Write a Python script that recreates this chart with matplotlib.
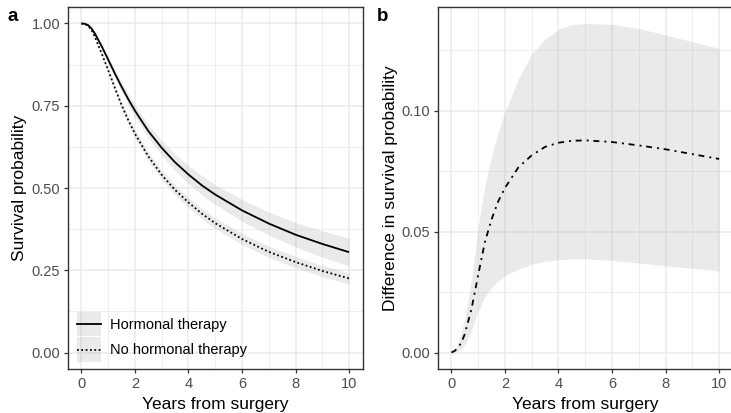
import numpy as np
import matplotlib; matplotlib.use("Agg")
import matplotlib.pyplot as plt
from matplotlib.patches import Patch
from matplotlib.lines import Line2D
from matplotlib.legend_handler import HandlerTuple, HandlerLine2D
from matplotlib.ticker import MultipleLocator

INK = "#000000"; TICKS = "#4D4D4D"; BORDER = "#333333"; GRID = "#EBEBEB"
plt.rcParams.update({"font.family": ["Liberation Sans", "DejaVu Sans"], "font.size": 10.5,
                     "lines.scale_dashes": True})

# years from surgery
years = [0, 0.125, 0.25, 0.375, 0.5, 0.75, 1, 1.25, 1.5, 1.75, 2, 2.5, 3, 3.5, 4, 4.5,
         5, 6, 7, 8, 9, 10]

# survival curves with confidence bands
hormonal = [1.000, 0.999, 0.995, 0.985, 0.970, 0.932, 0.890, 0.848, 0.808, 0.770, 0.735,
            0.673, 0.622, 0.578, 0.541, 0.508, 0.480, 0.432, 0.392, 0.358, 0.330, 0.305]
hormonal_hi = [1.000, 0.999, 0.997, 0.988, 0.975, 0.940, 0.901, 0.861, 0.823, 0.787, 0.753,
               0.693, 0.644, 0.603, 0.568, 0.537, 0.510, 0.465, 0.427, 0.395, 0.370, 0.347]
hormonal_lo = [1.000, 0.998, 0.993, 0.982, 0.965, 0.924, 0.879, 0.835, 0.793, 0.753, 0.717,
               0.653, 0.600, 0.553, 0.514, 0.479, 0.450, 0.399, 0.357, 0.321, 0.290, 0.263]
no_hormonal = [1.000, 0.998, 0.993, 0.980, 0.960, 0.910, 0.858, 0.804, 0.752, 0.706, 0.665,
               0.596, 0.540, 0.494, 0.456, 0.422, 0.393, 0.345, 0.306, 0.275, 0.248, 0.225]
no_hormonal_hi = [1.000, 0.999, 0.995, 0.983, 0.964, 0.916, 0.866, 0.813, 0.762, 0.717, 0.677,
                  0.609, 0.554, 0.509, 0.471, 0.438, 0.409, 0.362, 0.323, 0.292, 0.265, 0.242]
no_hormonal_lo = [1.000, 0.997, 0.991, 0.977, 0.956, 0.904, 0.850, 0.795, 0.742, 0.695, 0.653,
                  0.583, 0.526, 0.479, 0.441, 0.406, 0.377, 0.328, 0.289, 0.258, 0.231, 0.208]

# difference in survival probability
diff = [0.0, 0.0007, 0.002, 0.0042, 0.0076, 0.018, 0.032, 0.0456, 0.055, 0.0625, 0.068,
        0.0765, 0.0815, 0.085, 0.0867, 0.0875, 0.0877, 0.087, 0.0856, 0.084, 0.082, 0.080]
diff_hi = [0.0, 0.0012, 0.004, 0.0085, 0.014, 0.030, 0.052, 0.069, 0.081, 0.091, 0.0995,
           0.113, 0.1235, 0.1295, 0.1335, 0.1355, 0.136, 0.1356, 0.134, 0.1312, 0.1285, 0.1257]
diff_lo = [0.0, 0.0001, 0.0005, 0.0015, 0.003, 0.009, 0.017, 0.023, 0.027, 0.0295, 0.0317,
           0.0345, 0.0365, 0.0377, 0.0383, 0.0387, 0.0388, 0.0381, 0.037, 0.0359, 0.0348, 0.0337]

LW = 1.3
DOTTED = (0, (1.0, 1.4))
DOTDASH = (0, (3.3, 2.8, 1.1, 2.6))
BAND = dict(color="0.6", alpha=0.2, lw=0)


class CenteredLine(HandlerLine2D):
    # put the key line in the middle of the grey key box
    def create_artists(self, legend, orig_handle, xdescent, ydescent, width, height,
                       fontsize, trans):
        arts = super().create_artists(legend, orig_handle, xdescent, ydescent, width,
                                      height, fontsize, trans)
        for a in arts:
            a.set_ydata(np.full(len(a.get_xdata()), height / 2 - ydescent))
        return arts


def style(ax, ymajor, yminor):
    ax.set_xlim(-0.5, 10.5)
    ax.xaxis.set_major_locator(MultipleLocator(2))
    ax.xaxis.set_minor_locator(MultipleLocator(1))
    ax.yaxis.set_major_locator(MultipleLocator(ymajor))
    ax.yaxis.set_minor_locator(MultipleLocator(yminor))
    ax.grid(True, which="major", color=GRID, lw=1.1, zorder=0)
    ax.grid(True, which="minor", color=GRID, lw=0.6, zorder=0)
    ax.set_axisbelow(True)
    for s in ax.spines.values():
        s.set_color(BORDER); s.set_linewidth(1.0)
    ax.tick_params(which="major", length=3.2, width=0.9, color=BORDER,
                   labelcolor=TICKS, labelsize=10.5, pad=2.5)
    ax.tick_params(which="minor", length=0)
    ax.set_xlabel("Years from surgery", fontsize=12.5, color=INK, labelpad=4.5)


fig = plt.figure(figsize=(7.31, 4.13), dpi=100)

# ---- panel a: survival curves ----
ax = fig.add_axes([68/731, 44/413, 294.5/731, 362/413])
ax.fill_between(years, hormonal_lo, hormonal_hi, **BAND)
ax.fill_between(years, no_hormonal_lo, no_hormonal_hi, **BAND)
ax.plot(years, hormonal, color="black", lw=LW, solid_capstyle="butt")
ax.plot(years, no_hormonal, color="black", lw=LW, ls=DOTTED)
style(ax, 0.25, 0.125)
ax.set_ylim(-0.05, 1.05)
ax.yaxis.set_major_formatter(lambda v, p: f"{v:.2f}")
ax.set_ylabel("Survival probability", fontsize=12.5, color=INK, labelpad=3)
handles = [(Patch(**BAND), Line2D([], [], color="black", lw=LW)),
           (Patch(**BAND), Line2D([], [], color="black", lw=LW, ls=DOTTED))]
ax.legend(handles, ["Hormonal therapy", "No hormonal therapy"],
          handler_map={tuple: HandlerTuple(ndivide=1, pad=0), Line2D: CenteredLine()},
          loc="lower left", bbox_to_anchor=(0.032, 0.02), frameon=False,
          borderpad=0, borderaxespad=0, handlelength=1.6, handleheight=2.19,
          labelspacing=0.09, handletextpad=0.65, fontsize=10.5)
fig.text(8/731, 1 - 21/413, "a", fontsize=13.5, fontweight="bold", va="baseline")

# ---- panel b: difference ----
bx = fig.add_axes([438/731, 44/413, 294.5/731, 362/413])
bx.fill_between(years, diff_lo, diff_hi, **BAND)
bx.plot(years, diff, color="black", lw=LW, ls=DOTDASH)
style(bx, 0.05, 0.025)
bx.set_ylim(-0.0068, 0.1428)
bx.yaxis.set_major_formatter(lambda v, p: f"{v:.2f}")
bx.set_ylabel("Difference in survival probability", fontsize=12.5, color=INK, labelpad=2.5)
fig.text(377/731, 1 - 21/413, "b", fontsize=13.5, fontweight="bold", va="baseline")

fig.savefig("out.png", dpi=100)
